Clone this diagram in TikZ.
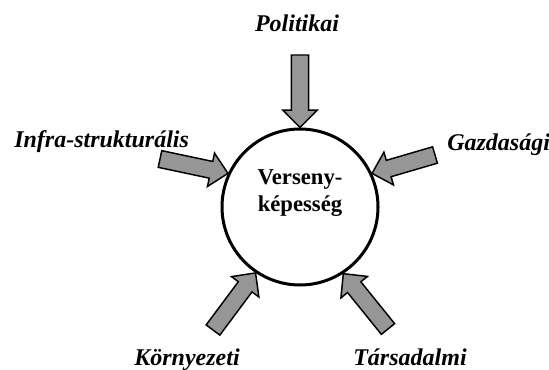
\documentclass[tikz,border=0pt]{standalone}
\usepackage{fontspec}
\setmainfont{Liberation Serif}
\usetikzlibrary{calc}
\definecolor{szurke}{RGB}{150,150,150}
\begin{document}
\begin{tikzpicture}[x=0.75pt,y=-0.75pt,font=\bfseries\itshape\fontsize{18}{21}\selectfont,
        nyil/.style={draw=black,fill=szurke,line width=1.1pt,line join=miter},
        kor/.style={draw,circle,line width=2.25pt,minimum size=117pt,inner sep=0pt},
        cimke/.style={inner sep=0pt}]
            \def\shw{6.4pt} \def\hhw{12.8pt} \def\hl{13pt}
            \def\blokk(#1,#2){% farok, hegy
                \coordinate (nk) at ($(#2)!\hl!(#1)$);
                \draw[nyil] ($(#1)!\shw!90:(#2)$) -- ($(nk)!\shw!90:(#2)$) -- ($(nk)!\hhw!90:(#2)$)
                    -- (#2) -- ($(nk)!\hhw!-90:(#2)$) -- ($(nk)!\shw!-90:(#2)$) -- ($(#1)!\shw!-90:(#2)$) -- cycle;}
            \useasboundingbox (0,0) rectangle (549,370);
            \node[kor] (vk) at (300,207) {};
            \node[cimke,align=center,font=\bfseries\fontsize{17}{20.25}\selectfont] (vkt) at (300,193) {Verseny-\\képesség};
            %===========================================
            \node[cimke,anchor=base] (pol) at (297,32) {Politikai};
            \node[cimke,anchor=base west] (inf) at (14,148) {Infra-strukturális};
            \node[cimke,anchor=base west] (gaz) at (447,151) {Gazdasági};
            \node[cimke,anchor=base] (kny) at (187,365) {Környezeti};
            \node[cimke,anchor=base] (tar) at (410,365) {Társadalmi};
            %===========================================
            \coordinate (fpol) at (300,55);
            \coordinate (finf) at (160,159);
            \coordinate (fgaz) at (435,155);
            \coordinate (fkny) at (213,330);
            \coordinate (ftar) at (388,329);
            \blokk(fpol,vk.90)
            \blokk(finf,vk.155)
            \blokk(fgaz,vk.25)
            \blokk(fkny,vk.236.5)
            \blokk(ftar,vk.303.5)
    \end{tikzpicture}
\end{document}
